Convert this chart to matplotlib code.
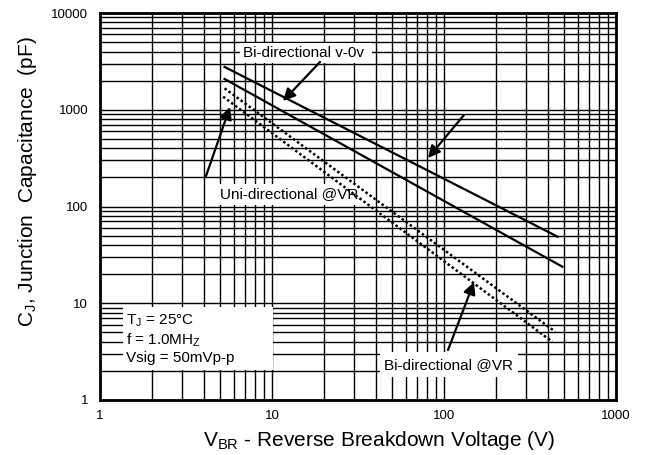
import matplotlib
matplotlib.use("Agg")
import matplotlib.pyplot as plt
from matplotlib.patches import Rectangle
from matplotlib.ticker import LogLocator, NullFormatter, FuncFormatter

# curve end points (V, pF)
bi_0v_v = [5.3, 458]
bi_0v_c = [2770, 48.7]
uni_v_v = [5.3, 487]
uni_v_c = [2080, 23.9]
bi_vr_hi_v = [5.3, 442]
bi_vr_hi_c = [1665, 5.1]
bi_vr_lo_v = [5.2, 426]
bi_vr_lo_c = [1365, 4.0]

x_ticks = [1, 10, 100, 1000]
y_ticks = [1, 10, 100, 1000, 10000]

W, H = 653, 455
L, R, T, B = 100, 616, 13, 400

font = "Liberation Sans"
plt.rcParams["mathtext.fontset"] = "custom"
plt.rcParams["mathtext.rm"] = font

fig = plt.figure(figsize=(W / 100, H / 100), dpi=100)
ax = fig.add_axes([L / W, 1 - B / H, (R - L) / W, (B - T) / H])
ax.set_xscale("log")
ax.set_yscale("log")
ax.set_xlim(1, 1000)
ax.set_ylim(1, 10000)

# grid
ax.set_axisbelow(True)
ax.xaxis.set_minor_locator(LogLocator(base=10, subs=range(2, 10), numticks=20))
ax.yaxis.set_minor_locator(LogLocator(base=10, subs=range(2, 10), numticks=20))
ax.xaxis.set_minor_formatter(NullFormatter())
ax.yaxis.set_minor_formatter(NullFormatter())
ax.grid(True, which="both", color="black", lw=1.0)
ax.set_xticks(x_ticks)
ax.set_yticks(y_ticks)
fmt = FuncFormatter(lambda v, p: f"{int(round(v))}")
ax.xaxis.set_major_formatter(fmt)
ax.yaxis.set_major_formatter(fmt)
ax.tick_params(which="both", length=0)
ax.tick_params(axis="y", pad=8.5, labelsize=9.5)
ax.tick_params(axis="x", pad=7, labelsize=9.5)
for lab in ax.get_xticklabels() + ax.get_yticklabels():
    lab.set_fontfamily(font)
for s in ax.spines.values():
    s.set_linewidth(2.0)
    s.set_zorder(5)


def px(x, y):
    return ((x - L) / (R - L), (B - y) / (B - T))


def box(x0, y0, x1, y1):
    ax.add_patch(Rectangle(px(x0, y1), (x1 - x0) / (R - L), (y1 - y0) / (B - T),
                           transform=ax.transAxes, facecolor="white",
                           edgecolor="none", zorder=1.5))


# white label boxes
box(240, 43, 372, 63)
box(217, 184, 362, 205)
box(380, 352, 518, 377)
box(123, 307, 273, 370)

# curves
ax.plot(bi_0v_v, bi_0v_c, color="black", lw=1.6, zorder=3)
ax.plot(uni_v_v, uni_v_c, color="black", lw=1.6, zorder=3)
ax.plot(bi_vr_hi_v, bi_vr_hi_c, color="black", lw=1.8, ls=(0, (1, 1)), zorder=3)
ax.plot(bi_vr_lo_v, bi_vr_lo_c, color="black", lw=1.8, ls=(0, (1, 1)), zorder=3)

# labels
ax.text(*px(243, 53), "Bi-directional v-0v", transform=ax.transAxes,
        fontsize=11, family=font, va="center", ha="left", zorder=4)
ax.text(*px(220, 194), "Uni-directional @VR", transform=ax.transAxes,
        fontsize=11, family=font, va="center", ha="left", zorder=4)
ax.text(*px(384, 365), "Bi-directional @VR", transform=ax.transAxes,
        fontsize=11, family=font, va="center", ha="left", zorder=4)
ax.text(*px(126, 321), "T$_{\\rm J}$ = 25°C", transform=ax.transAxes,
        fontsize=11, family=font, va="center", ha="left", zorder=4)
ax.text(*px(126, 340), "f = 1.0MH$_{\\rm Z}$", transform=ax.transAxes,
        fontsize=11, family=font, va="center", ha="left", zorder=4)
ax.text(*px(126, 358), "Vsig = 50mVp-p", transform=ax.transAxes,
        fontsize=11, family=font, va="center", ha="left", zorder=4)

# arrows
arrows = [((320, 62), (283, 101)), ((464, 115), (428, 158)),
          ((206, 176), (230, 107)), ((448, 350), (474, 282))]
for tail, tip in arrows:
    ax.annotate("", xy=px(*tip), xytext=px(*tail), xycoords="axes fraction",
                textcoords="axes fraction", zorder=4,
                arrowprops=dict(arrowstyle="-|>", color="black", lw=1.6,
                                mutation_scale=18, shrinkA=0, shrinkB=0))

fig.text(379 / W, 1 - 440 / H, "V$_{\\rm BR}$ - Reverse Breakdown Voltage (V)",
         fontsize=15, family=font, ha="center", va="center")
fig.text(33 / W, 1 - 182 / H, "C$_{\\rm J}$, Junction  Capacitance  (pF)",
         fontsize=15, family=font, ha="center", va="baseline", rotation=90,
         rotation_mode="anchor")

fig.savefig("out.png", dpi=100)
